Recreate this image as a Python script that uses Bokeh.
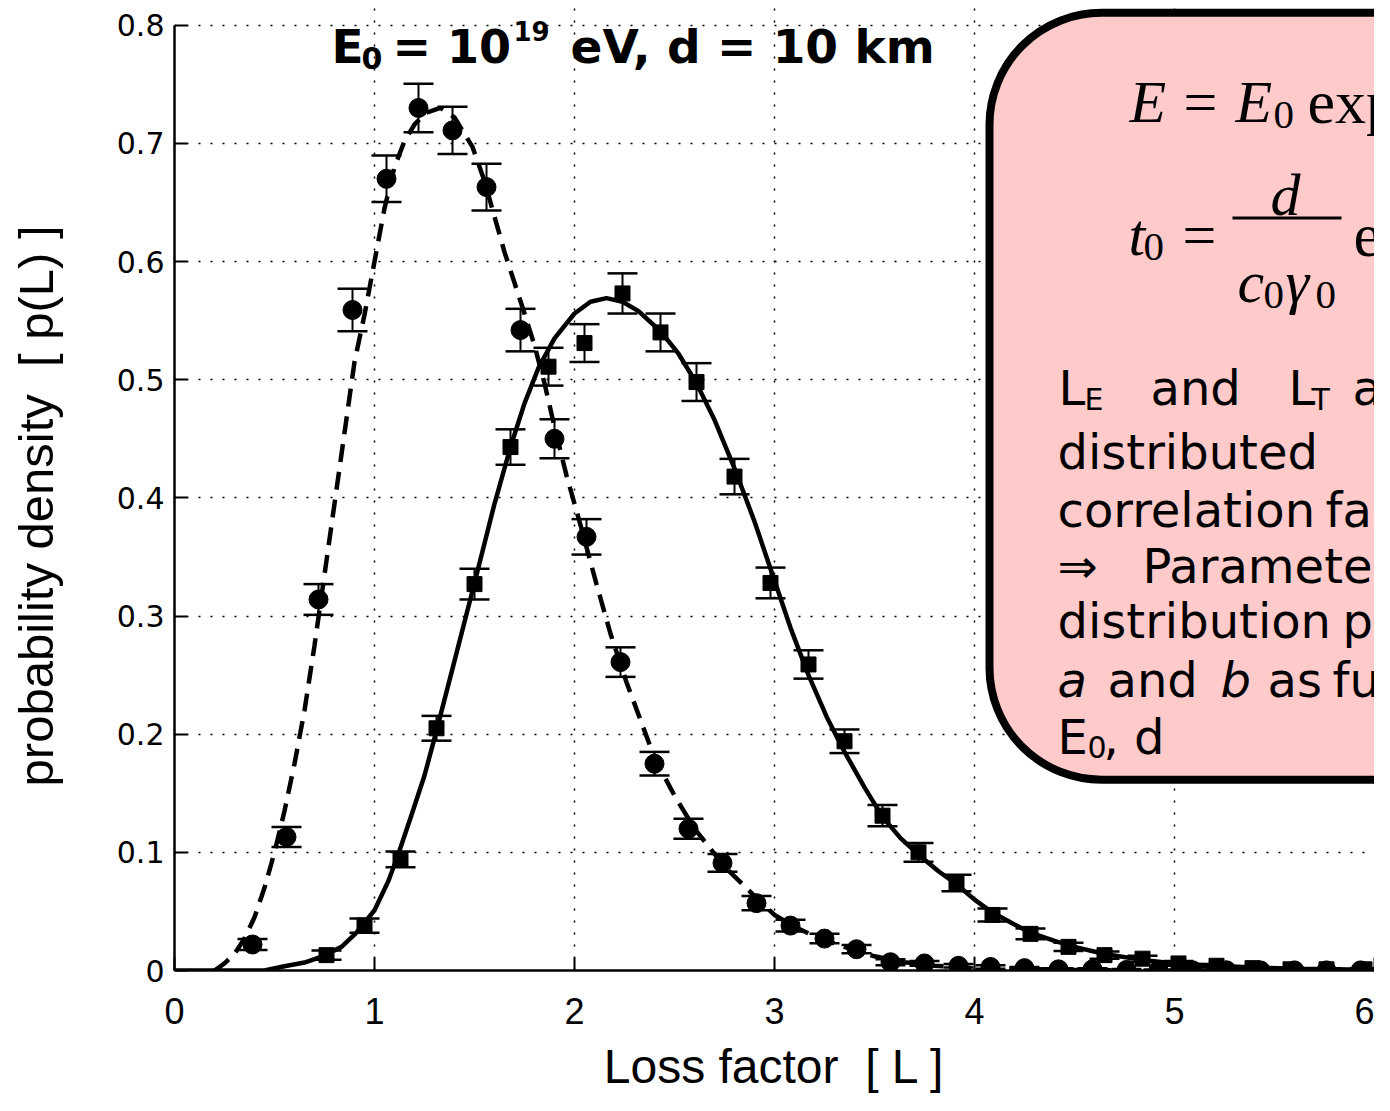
import numpy as np
from bokeh.plotting import figure
from bokeh.models import BoxAnnotation, Label, FixedTicker
from bokeh.embed import file_html
from bokeh.resources import INLINE

# ---------------- data ----------------
circ_L = [0.39, 0.56, 0.72, 0.89, 1.06, 1.22, 1.39, 1.56, 1.73, 1.90, 2.06, 2.23,
          2.40, 2.57, 2.74, 2.91, 3.08, 3.25, 3.41, 3.58, 3.75, 3.92, 4.08, 4.25,
          4.42, 4.59, 4.76, 4.92, 5.09, 5.26, 5.43, 5.60, 5.76, 5.93]
circ_p = [0.022, 0.113, 0.314, 0.559, 0.670, 0.730, 0.711, 0.663, 0.542, 0.450,
          0.367, 0.261, 0.175, 0.120, 0.091, 0.057, 0.038, 0.027, 0.018, 0.007,
          0.006, 0.004, 0.003, 0.002, 0.001, 0.001, 0.0005, 0.0003, 0.0002,
          0.0002, 0.0001, 0.0001, 0.0001, 0.0001]
circ_err = [0.0046, 0.0084, 0.013, 0.018, 0.0197, 0.0205, 0.020, 0.0197, 0.018,
            0.0165, 0.015, 0.0125, 0.010, 0.0085, 0.0075, 0.006, 0.005, 0.004,
            0.0035, 0.0025, 0.002, 0.0015, 0.0015, 0.001, 0.001, 0.001, 0.0007,
            0.0005, 0.0005, 0.0005, 0.0003, 0.0003, 0.0003, 0.0003]

sq_L = [0.76, 0.95, 1.13, 1.31, 1.50, 1.68, 1.87, 2.05, 2.24, 2.43, 2.61, 2.80,
        2.98, 3.17, 3.35, 3.54, 3.72, 3.91, 4.09, 4.28, 4.47, 4.65, 4.84, 5.02,
        5.21, 5.39, 5.58, 5.76, 5.95]
sq_p = [0.013, 0.038, 0.094, 0.205, 0.327, 0.443, 0.511, 0.531, 0.573, 0.540,
        0.498, 0.418, 0.328, 0.259, 0.194, 0.131, 0.100, 0.074, 0.047, 0.031,
        0.020, 0.013, 0.010, 0.006, 0.004, 0.002, 0.001, 0.001, 0.001]
sq_err = [0.004, 0.006, 0.0067, 0.0105, 0.013, 0.015, 0.016, 0.016, 0.017, 0.016,
          0.016, 0.015, 0.013, 0.012, 0.010, 0.009, 0.008, 0.007, 0.0055, 0.0045,
          0.0035, 0.003, 0.0025, 0.002, 0.0015, 0.001, 0.001, 0.001, 0.001]

dash_L = [0.20, 0.25, 0.30, 0.35, 0.40, 0.45, 0.50, 0.55, 0.60, 0.65, 0.70, 0.75,
          0.80, 0.85, 0.90, 0.95, 1.00, 1.05, 1.10, 1.15, 1.20, 1.26, 1.33, 1.40,
          1.49, 1.55, 1.60, 1.65, 1.70, 1.75, 1.80, 1.85, 1.90, 1.96, 2.03, 2.11,
          2.18, 2.26, 2.33, 2.40, 2.50, 2.60, 2.75, 2.90, 3.00, 3.10, 3.20, 3.35,
          3.50, 3.65, 3.80, 4.00, 4.50, 5.00, 6.00]
dash_p = [0.000, 0.006, 0.014, 0.027, 0.045, 0.070, 0.100, 0.135, 0.175, 0.220,
          0.275, 0.335, 0.395, 0.455, 0.515, 0.555, 0.600, 0.645, 0.680, 0.702,
          0.716, 0.726, 0.730, 0.722, 0.697, 0.668, 0.638, 0.608, 0.582, 0.556,
          0.529, 0.497, 0.460, 0.419, 0.377, 0.327, 0.285, 0.244, 0.212, 0.180,
          0.148, 0.120, 0.088, 0.063, 0.047, 0.037, 0.029, 0.020, 0.012, 0.007,
          0.004, 0.002, 0.0005, 0.0, 0.0]

sol_L = [0.00, 0.45, 0.55, 0.65, 0.74, 0.835, 0.91, 1.00, 1.07, 1.12, 1.18, 1.25,
         1.31, 1.40, 1.50, 1.60, 1.68, 1.75, 1.82, 1.90, 2.00, 2.08, 2.16, 2.24,
         2.32, 2.43, 2.52, 2.61, 2.70, 2.80, 2.90, 2.98, 3.08, 3.17, 3.26, 3.35,
         3.45, 3.54, 3.63, 3.72, 3.82, 3.91, 4.00, 4.09, 4.20, 4.28, 4.40, 4.50,
         4.65, 4.84, 5.00, 5.20, 5.40, 5.60, 5.80, 6.00]
sol_p = [0.0, 0.0, 0.0036, 0.0067, 0.012, 0.020, 0.032, 0.051, 0.076, 0.099,
         0.129, 0.165, 0.203, 0.262, 0.328, 0.395, 0.443, 0.480, 0.510, 0.535,
         0.556, 0.566, 0.569, 0.566, 0.558, 0.541, 0.522, 0.497, 0.466, 0.425,
         0.380, 0.340, 0.290, 0.250, 0.215, 0.185, 0.155, 0.130, 0.112, 0.098,
         0.084, 0.073, 0.060, 0.049, 0.039, 0.032, 0.025, 0.020, 0.014, 0.009,
         0.006, 0.004, 0.0025, 0.0015, 0.001, 0.0005]

x_ticks = [0, 1, 2, 3, 4, 5, 6]
y_ticks = [0, 0.1, 0.2, 0.3, 0.4, 0.5, 0.6, 0.7, 0.8]
y_tick_labels = ["0", "0.1", "0.2", "0.3", "0.4", "0.5", "0.6", "0.7", "0.8"]

NB = "\u00a0"
x_title = "Loss factor" + NB + " [ L ]"
y_title = "probability density" + NB + " [ p(L) ]" + NB * 3

# ---------------- layout ----------------
W, H = 1374, 1095
LEFT = 174                         # frame left (canvas px)
BOTTOM = H - 981                   # frame bottom at canvas y = 981
PX_X = (W - LEFT) / 6.0            # px per unit along x
PX_Y = 956 / 0.8                   # px per unit along y
Y_TOP = (H - BOTTOM) / PX_Y


def X(px):   # canvas px -> data x
    return (px - LEFT) / PX_X


def Y(py):   # canvas py -> data y
    return (H - BOTTOM - py) / PX_Y


p = figure(width=W, height=H, x_range=(0, 6), y_range=(0, Y_TOP),
           output_backend="svg", toolbar_location=None,
           min_border_left=LEFT, min_border_right=0, min_border_top=0,
           min_border_bottom=BOTTOM)
p.outline_line_color = None
p.background_fill_color = "white"
p.border_fill_color = "white"

# grid
p.xgrid.ticker = FixedTicker(ticks=[1, 2, 3, 4, 5, 6])
p.ygrid.ticker = FixedTicker(ticks=y_ticks[1:])
for g in (p.xgrid, p.ygrid):
    g.grid_line_color = "black"
    g.grid_line_dash = "2 10"
    g.grid_line_width = 1.5
    g.grid_line_alpha = 1.0

# axes
p.xaxis.ticker = FixedTicker(ticks=x_ticks)
p.yaxis.ticker = FixedTicker(ticks=y_ticks)
p.yaxis.major_label_overrides = dict(zip(y_ticks, y_tick_labels))
p.xaxis.bounds = (0, 6)
p.yaxis.bounds = (0, 0.8)
for ax in (p.xaxis, p.yaxis):
    ax.axis_line_width = 2.5
    ax.axis_line_color = "black"
    ax.major_tick_in = 13
    ax.major_tick_out = 0
    ax.major_tick_line_width = 2
    ax.major_tick_line_color = "black"
    ax.minor_tick_line_color = None
    ax.major_label_text_color = "black"
    ax.axis_label_text_color = "black"
    ax.axis_label_text_font_style = "normal"

p.xaxis.major_label_text_font = "Liberation Sans"
p.xaxis.major_label_text_font_size = "36px"
p.xaxis.major_label_standoff = 27
p.yaxis.major_label_text_font = "DejaVu Sans"
p.yaxis.major_label_text_font_size = "30px"
p.yaxis.major_label_standoff = 10

p.xaxis.axis_label = x_title
p.xaxis.axis_label_text_font = "Liberation Sans"
p.xaxis.axis_label_text_font_size = "48px"
p.xaxis.axis_label_standoff = 13

p.yaxis.axis_label = y_title
p.yaxis.axis_label_text_font = "Liberation Sans"
p.yaxis.axis_label_text_font_size = "49px"
p.yaxis.axis_label_standoff = 51

# ---------------- curves ----------------
p.line(sol_L, sol_p, line_color="black", line_width=4.5)
p.line(dash_L, dash_p, line_color="black", line_width=4.5, line_dash="18 10")

# ---------------- error bars & markers ----------------
cp, ce = np.array(circ_p), np.array(circ_err)
sp_, se = np.array(sq_p), np.array(sq_err)

p.segment(x0=circ_L, y0=cp - ce, x1=circ_L, y1=cp + ce, line_color="black", line_width=2)
p.scatter(circ_L, cp + ce, marker="dash", size=30, line_color="black", line_width=2.5)
p.scatter(circ_L, cp - ce, marker="dash", size=30, line_color="black", line_width=2.5)
p.scatter(circ_L, circ_p, marker="circle", size=19, fill_color="black", line_color="black")

p.segment(x0=sq_L, y0=sp_ - se, x1=sq_L, y1=sp_ + se, line_color="black", line_width=2)
p.scatter(sq_L, sp_ + se, marker="dash", size=30, line_color="black", line_width=2.5)
p.scatter(sq_L, sp_ - se, marker="dash", size=30, line_color="black", line_width=2.5)
p.scatter(sq_L, sq_p, marker="square", size=15, fill_color="black", line_color="black")


# ---------------- text helpers ----------------
def lab(text, px, py, size, font="DejaVu Sans", style="normal", align="left"):
    p.add_layout(Label(x=X(px), y=Y(py), text=text, text_font=font,
                       text_font_size=f"{size}px", text_font_style=style,
                       text_color="black", text_align=align,
                       text_baseline="alphabetic"))


# title
lab("E", 331, 47, 47, style="bold")
lab("0", 361, 58, 30, style="bold")
lab("= 10", 392, 47, 46, style="bold")
lab("19", 513, 31, 26, style="bold")
lab("eV, d = 10 km", 570, 47, 47, style="bold")

# pink box
p.add_layout(BoxAnnotation(left=X(989), right=X(1700), top=Y(12.5), bottom=Y(788),
                           fill_color="#ffcaca", fill_alpha=1.0,
                           line_color="black", line_width=8, line_alpha=1.0,
                           border_radius=112))

SERIF = "Liberation Serif"
# formula 1
lab("E", 1129, 103, 60, SERIF, "italic")
lab("=", 1183, 103, 60, SERIF)
lab("E", 1235, 103, 60, SERIF, "italic")
lab("0", 1273, 116, 41, SERIF)
lab("exp", 1307, 103, 62, SERIF)
# formula 2
lab("t", 1128, 237, 60, SERIF, "italic")
lab("0", 1143, 249, 41, SERIF)
lab("=", 1182, 237, 60, SERIF)
p.add_layout(BoxAnnotation(left=X(1232), right=X(1341), top=Y(218.5), bottom=Y(221.5),
                           fill_color="black", fill_alpha=1.0, line_color=None))
lab("d", 1270, 197, 60, SERIF, "italic")
lab("c", 1237, 285, 60, SERIF, "italic")
lab("0", 1263, 298, 41, SERIF)
lab("γ", 1285, 285, 60, SERIF, "italic")
lab("0", 1315, 298, 41, SERIF)
lab("ex", 1353, 237, 62, SERIF)

# box text
FS = 48
SUB = 30
lab("L", 1058, 392, FS)
lab("E", 1084, 404, SUB)
lab("and", 1150, 392, FS)
lab("L", 1288, 392, FS)
lab("T", 1311, 404, SUB)
lab("a", 1352, 392, FS)
lab("distributed", 1057, 457, FS)
lab("correlation", 1057, 515, FS)
lab("fac", 1325, 515, FS)
lab("⇒", 1057, 572, FS)
lab("Parameter", 1142, 572, FS)
lab("distribution", 1057, 628, FS)
lab("pa", 1342, 628, FS)
lab("a", 1057, 687, FS, style="italic")
lab("and", 1107, 687, FS)
lab("b", 1220, 687, FS, style="italic")
lab("as", 1267, 687, FS)
lab("fu", 1332, 687, FS)
lab("E", 1057, 745, FS)
lab("0", 1087, 755, SUB)
lab(", d", 1103, 745, FS)

open("out.html", "w").write(file_html(p, INLINE))
